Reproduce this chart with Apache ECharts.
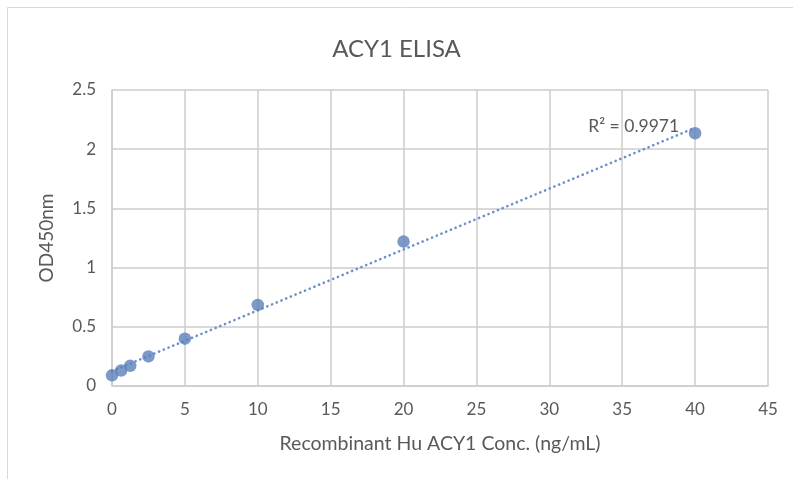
<!DOCTYPE html>
<html>
<head>
<meta charset="utf-8">
<script src="https://cdn.jsdelivr.net/npm/echarts@6/dist/echarts.min.js"></script>
<style>
html,body{margin:0;padding:0;background:#fff;}
#c{width:793px;height:479px;}
</style>
</head>
<body>
<div id="c"></div>
<script>
// Data
const concentrations = [0, 0.625, 1.25, 2.5, 5, 10, 20, 40];
const odValues = [0.09, 0.13, 0.17, 0.25, 0.40, 0.685, 1.22, 2.135];
const xTicks = [0, 5, 10, 15, 20, 25, 30, 35, 40, 45];
const yTicks = [0, 0.5, 1, 1.5, 2, 2.5];
const rSquaredText = 'R² = 0.9971';

// Least-squares linear trendline (as the spreadsheet does)
const n = concentrations.length;
const mx = concentrations.reduce((a, b) => a + b, 0) / n;
const my = odValues.reduce((a, b) => a + b, 0) / n;
let sxy = 0, sxx = 0;
for (let i = 0; i < n; i++) {
  sxy += (concentrations[i] - mx) * (odValues[i] - my);
  sxx += (concentrations[i] - mx) * (concentrations[i] - mx);
}
const slope = sxy / sxx;
const intercept = my - slope * mx;
const xFirst = concentrations[0], xLast = concentrations[n - 1];
const trend = [[xFirst, intercept + slope * xFirst], [xLast, intercept + slope * xLast]];

const FONT = 'Lato';
const TXT = '#595959';
const GRID = '#cdcdcd';
const BLUE = '#5b80b9';

const chart = echarts.init(document.getElementById('c'), null, {renderer: 'canvas'});
chart.setOption({
  backgroundColor: '#fff',
  animation: false,
  textStyle: {fontFamily: FONT},
  title: {
    text: 'ACY1 ELISA',
    left: 'center',
    top: 32,
    textStyle: {fontFamily: FONT, fontSize: 24, fontWeight: 'normal', color: TXT}
  },
  graphic: [{
    type: 'rect',
    shape: {x: 7.5, y: 7.5, width: 800, height: 500},
    style: {fill: 'none', stroke: '#d9d9d9', lineWidth: 1},
    silent: true, z: -1
  }],
  grid: {left: 112, right: 25, top: 90, bottom: 93, containLabel: false},
  xAxis: {
    type: 'value',
    min: xTicks[0], max: xTicks[xTicks.length - 1], interval: xTicks[1] - xTicks[0],
    name: 'Recombinant Hu ACY1 Conc. (ng/mL)',
    nameLocation: 'middle', nameGap: 48,
    nameTextStyle: {fontFamily: FONT, fontSize: 19.5, color: TXT},
    axisLine: {show: true, lineStyle: {color: GRID, width: 1.5}},
    axisTick: {show: false},
    axisLabel: {fontFamily: FONT, fontSize: 17, color: TXT, margin: 15},
    splitLine: {show: true, lineStyle: {color: GRID, width: 1.5}}
  },
  yAxis: {
    type: 'value',
    min: yTicks[0], max: yTicks[yTicks.length - 1], interval: yTicks[1] - yTicks[0],
    name: 'OD450nm',
    nameLocation: 'middle', nameGap: 56,
    nameTextStyle: {fontFamily: FONT, fontSize: 19, color: TXT},
    axisLine: {show: true, lineStyle: {color: GRID, width: 1.5}},
    axisTick: {show: false},
    axisLabel: {fontFamily: FONT, fontSize: 17, color: TXT, margin: 16},
    splitLine: {show: true, lineStyle: {color: GRID, width: 1.5}}
  },
  series: [
    {
      type: 'line',
      data: trend,
      symbol: 'none',
      silent: true,
      lineStyle: {color: '#6a8fc8', width: 2.6, type: [0.1, 5], cap: 'round'},
      z: 2,
      endLabel: {
        show: true,
        formatter: rSquaredText,
        fontFamily: FONT, fontSize: 17.5, color: TXT,
        align: 'right', verticalAlign: 'middle',
        offset: [-24, -1]
      }
    },
    {
      type: 'scatter',
      data: concentrations.map((x, i) => [x, odValues[i]]),
      symbol: 'circle',
      symbolSize: 12.5,
      itemStyle: {color: BLUE},
      z: 3
    }
  ]
});
</script>
</body>
</html>
